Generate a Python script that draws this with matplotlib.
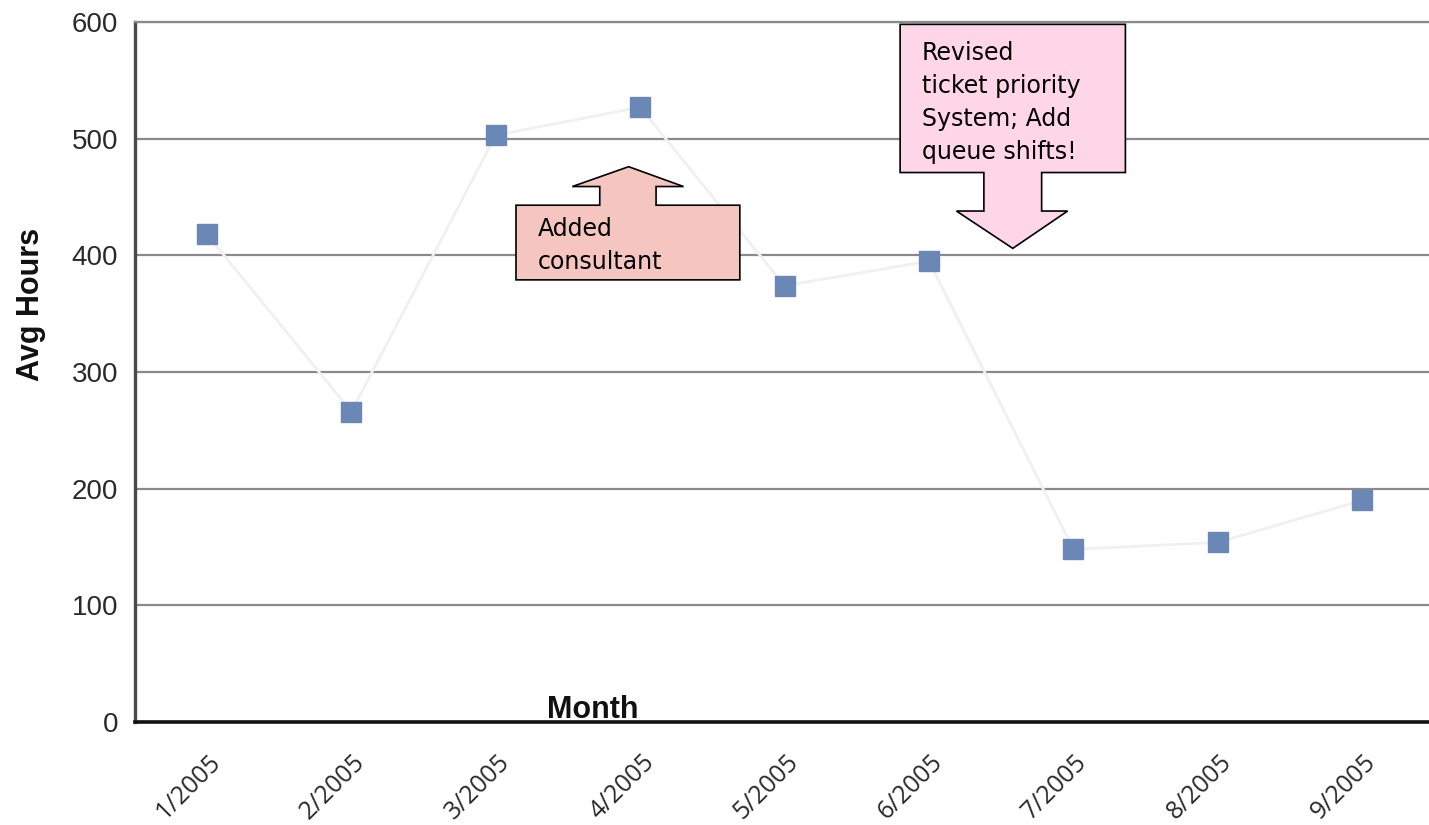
import matplotlib
matplotlib.use("Agg")
import matplotlib.pyplot as plt
from matplotlib.patches import Polygon
from matplotlib.transforms import ScaledTranslation

# Monthly average hours
months = ["1/2005", "2/2005", "3/2005", "4/2005", "5/2005",
          "6/2005", "7/2005", "8/2005", "9/2005"]
avg_hours = [418, 266, 503, 527, 374, 395, 148, 154, 190]
y_ticks = [0, 100, 200, 300, 400, 500, 600]

# Callout notes
note_consultant = "Added\nconsultant"
note_priority = "Revised\nticket priority\nSystem; Add\nqueue shifts!"

fig = plt.figure(figsize=(14.29, 8.25), dpi=100)
ax = fig.add_axes([0.0943, 0.1248, 0.9095, 0.8485])

x = list(range(len(months)))
ax.plot(x, avg_hours, color="#f0f0f0", lw=2.0, zorder=3)
ax.plot(x, avg_hours, ls="none", marker="s", markersize=14.5,
        markerfacecolor="#6b87b5", markeredgecolor="#6b87b5", zorder=4)

ax.set_xlim(-0.5, len(months) - 0.5)
ax.set_ylim(0, 600)
ax.set_yticks(y_ticks)
ax.set_yticklabels([str(v) for v in y_ticks], fontsize=20,
                   family="Liberation Sans", color="#2a2a2a")
ax.grid(axis="y", color="#8a8a8a", lw=1.6, zorder=1)
ax.grid(axis="x", visible=False)

# Month labels: rotated text hung just below the axis, nudged right of each slot
ax.set_xticks(x)
ax.set_xticklabels([])
label_tf = ax.get_xaxis_transform() + ScaledTranslation(0.19, -0.28, fig.dpi_scale_trans)
for xi, m in zip(x, months):
    ax.text(xi, 0, m, transform=label_tf, rotation=45, ha="right", va="top",
            fontsize=18, family="Open Sans", color="#2a2a2a", clip_on=False)

ax.tick_params(axis="x", length=0, pad=20)
ax.tick_params(axis="y", length=0, pad=12)

ax.spines["right"].set_visible(False)
ax.spines["top"].set_color("#8a8a8a")
ax.spines["top"].set_linewidth(1.6)
ax.spines["left"].set_color("#4a4a4a")
ax.spines["left"].set_linewidth(2.4)
ax.spines["bottom"].set_color("#111111")
ax.spines["bottom"].set_linewidth(2.6)

ax.set_xlabel("Month", fontsize=22, fontweight="bold", family="Liberation Sans",
              color="#111111")
ax.xaxis.label.set(va="baseline", ha="center")
ax.xaxis.set_label_coords(0.3526, 0.006)

ax.set_ylabel("Avg Hours", fontsize=22, fontweight="bold", family="Liberation Sans",
              color="#111111")
ax.yaxis.label.set(va="center", ha="center", rotation_mode="default")
ax.yaxis.set_label_coords(-0.080, 0.596)

# "Added consultant" up-arrow callout
shape1 = [(2.14, 379), (3.69, 379), (3.69, 443), (3.11, 443), (3.11, 459),
          (3.30, 459), (2.92, 476), (2.53, 459), (2.72, 459), (2.72, 443),
          (2.14, 443)]
ax.add_patch(Polygon(shape1, closed=True, facecolor="#f4c6bf", edgecolor="black",
                     lw=1.2, zorder=5))
ax.text(2.29, 432.5, note_consultant, fontsize=17, family="DejaVu Sans",
        va="top", ha="left", linespacing=1.47, color="black", zorder=6)

# "Revised ticket priority" down-arrow callout
shape2 = [(4.80, 598), (6.36, 598), (6.36, 471), (5.78, 471), (5.78, 438),
          (5.96, 438), (5.58, 406), (5.19, 438), (5.38, 438), (5.38, 471),
          (4.80, 471)]
ax.add_patch(Polygon(shape2, closed=True, facecolor="#ffd5e8", edgecolor="black",
                     lw=1.2, zorder=5))
ax.text(4.95, 583.5, note_priority, fontsize=17, family="DejaVu Sans",
        va="top", ha="left", linespacing=1.47, color="black", zorder=6)

fig.savefig("out.png", dpi=100)
